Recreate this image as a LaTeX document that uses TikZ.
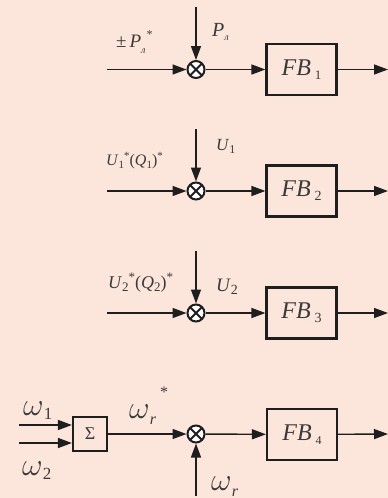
\documentclass[tikz,border=0pt]{standalone}
\usepackage{fontspec}
\usepackage{graphicx}
\setmainfont{Liberation Serif}
\usetikzlibrary{arrows.meta}
\definecolor{bgc}{HTML}{FCE5DA}
\definecolor{ink}{HTML}{1E1E1E}
\definecolor{txt}{HTML}{3A3A3A}
% font size helper
\newcommand\fs[1]{\fontsize{#1}{#1}\selectfont}
% lowered / raised small pieces of a label
\newcommand\lowr[3]{\raisebox{-#1pt}{\fs{#2}#3}}
\newcommand\highr[3]{\raisebox{#1pt}{\fs{#2}#3}}
% block label: italic FB with an upright index
\newcommand\fblabel[2]{FB\hspace{4pt}\lowr{4}{#1}{\upshape #2}}
% large italic omega
\newcommand\bigom{\scalebox{1.28}{\fs{24.88}$\omega$}}
\begin{document}
\begin{tikzpicture}[x=1pt,y=-1pt,
  wire/.style={draw=ink, line width=1.4pt, -{Triangle[length=14pt,width=10pt]}},
  fbbox/.style={draw=ink, line width=2.2pt, minimum width=70pt, minimum height=51pt,
    inner sep=0pt, text=txt, font=\fs{24}\itshape},
  sbox/.style={draw=ink, line width=2.2pt, minimum width=34pt, minimum height=34pt,
    inner sep=0pt, text=txt, font=\fs{18}},
  sumc/.style={circle, draw=ink, line width=2pt, fill=white, minimum size=17pt,
    inner sep=0pt, path picture={\draw[ink, line width=1.8pt]
      (path picture bounding box.south west) -- (path picture bounding box.north east)
      (path picture bounding box.north west) -- (path picture bounding box.south east);}},
  lbl/.style={text=txt, inner sep=0pt, anchor=base west}
]
\fill[bgc] (0,0) rectangle (388,498);
\useasboundingbox (0,0) rectangle (388,498);

% ---- channel 1 ----
\node[sumc] (c1) at (196,69.5) {};
\node[fbbox] (b1) at (301.5,69.5) {\fblabel{13}{1}};
\coordinate (i1) at (107,69.5);
\coordinate (t1) at (196,7);
\coordinate (o1) at (388,69.5);
\draw[wire] (i1) -- (c1);
\draw[wire] (t1) -- (c1);
\draw[wire] (c1) -- (b1);
\draw[wire] (b1) -- (o1);
\node[lbl] (r1) at (116,47) {\fs{19}±\hspace{3pt}\textit{P}\lowr{6}{10}{\textit{л}}\hspace{1pt}\highr{9}{12}{*}};
\node[lbl] (m1) at (212,36) {\fs{20}\textit{P}\lowr{4}{10}{\textit{л}}};

% ---- channel 2 ----
\node[sumc] (c2) at (196,191) {};
\node[fbbox] (b2) at (301.5,191) {\fblabel{14}{2}};
\coordinate (i2) at (107,191);
\coordinate (t2) at (196,129);
\coordinate (o2) at (388,191);
\draw[wire] (i2) -- (c2);
\draw[wire] (t2) -- (c2);
\draw[wire] (c2) -- (b2);
\draw[wire] (b2) -- (o2);
\node[lbl] (r2) at (106,165) {\fs{16}\textit{U}\lowr{3}{11}{1}\highr{6}{11}{*}(\textit{Q}\lowr{3}{11}{1})\highr{6}{11}{*}};
\node[lbl] (m2) at (216,150) {\fs{17}\textit{U}\lowr{3}{12}{1}};

% ---- channel 3 ----
\node[sumc] (c3) at (196,313) {};
\node[fbbox] (b3) at (301.5,313) {\fblabel{14}{3}};
\coordinate (i3) at (107,313);
\coordinate (t3) at (196,251);
\coordinate (o3) at (388,313);
\draw[wire] (i3) -- (c3);
\draw[wire] (t3) -- (c3);
\draw[wire] (c3) -- (b3);
\draw[wire] (b3) -- (o3);
\node[lbl] (r3) at (108,288) {\fs{18}\textit{U}\lowr{3}{13}{2}\highr{7}{13}{*}(\textit{Q}\lowr{3}{13}{2})\highr{7}{13}{*}};
\node[lbl] (m3) at (216,291) {\fs{19}\textit{U}\lowr{3}{14}{2}};

% ---- channel 4 ----
\node[sbox] (s4) at (90,434) {Σ};
\node[sumc] (c4) at (196,434) {};
\node[fbbox] (b4) at (302,434.5) {\fblabel{12}{4}};
\coordinate (w1) at (19,425);
\coordinate (w2) at (19,443);
\coordinate (t4) at (196,496);
\coordinate (o4) at (388,434);
\draw[wire] (w1) -- (w1 -| s4.west);
\draw[wire] (w2) -- (w2 -| s4.west);
\draw[wire] (s4) -- (c4);
\draw[wire] (t4) -- (c4);
\draw[wire] (c4) -- (b4);
\draw[wire] (b4) -- (o4);
\node[lbl] (k1) at (23,415) {\bigom\lowr{4}{17}{1}};
\node[lbl] (k2) at (22,475) {\bigom\lowr{4}{17}{2}};
\node[lbl] (k3) at (129,418) {\bigom\lowr{6}{16}{\textit{r}}\hspace{4pt}\highr{21}{16}{*}};
\node[lbl] (k4) at (211,490) {\bigom\lowr{6}{16}{\textit{r}}};
\end{tikzpicture}
\end{document}
